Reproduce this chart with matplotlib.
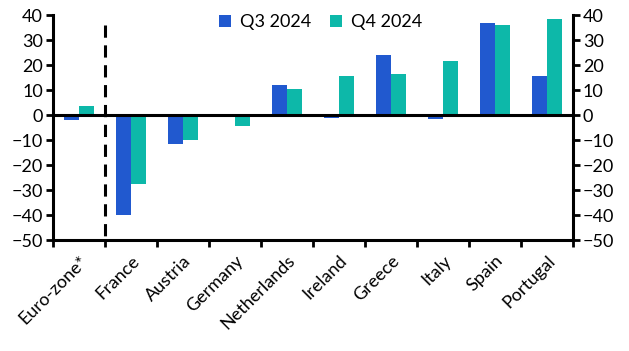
import matplotlib
matplotlib.use("Agg")
import matplotlib.pyplot as plt
import numpy as np

plt.rcParams['font.family'] = ['Lato', 'DejaVu Sans']

countries = ["Euro-zone*", "France", "Austria", "Germany", "Netherlands",
             "Ireland", "Greece", "Italy", "Spain", "Portugal"]
q3_2024 = [-2, -40, -11.5, 0, 12, -1, 24, -1.5, 37, 15.5]
q4_2024 = [3.5, -27.5, -10, -4.5, 10.5, 15.5, 16.5, 21.5, 36, 38.5]

blue = "#2159CF"
teal = "#0DB8A9"

fig = plt.figure(figsize=(6.29, 3.51), dpi=100)
ax = fig.add_axes([0.084, 0.316, 0.827, 0.641])

x = np.arange(len(countries))
w = 0.29
ax.bar(x - w/2, q3_2024, w, color=blue, label="Q3 2024")
ax.bar(x + w/2, q4_2024, w, color=teal, label="Q4 2024")

ax.axhline(0, color="black", lw=2.2, zorder=3)
ax.plot([0.5, 0.5], [36, -49], color="black", lw=2.2, ls=(0, (4, 2.5)), zorder=3)

ax.set_xlim(-0.5, len(countries) - 0.5)
ax.set_ylim(-50, 40)
ax.set_yticks(range(-50, 41, 10))
ax.set_xticks(np.arange(-0.5, len(countries), 1.0))
ax.set_xticklabels([])
ax.set_xticks(x, minor=True)
ax.set_xticklabels(countries, minor=True, rotation=45, ha="right",
                   rotation_mode="anchor", fontsize=13)
ax.tick_params(axis="x", which="minor", length=0, pad=9)
ax.tick_params(axis="x", which="major", length=5, width=2, direction="out")
ax.tick_params(axis="y", length=5, width=2, direction="out", labelsize=13,
               left=True, right=True, labelleft=True, labelright=True, pad=2)

for s in ["left", "right", "bottom"]:
    ax.spines[s].set_linewidth(2.2)
ax.spines["top"].set_visible(False)

ax.legend(loc="upper center", bbox_to_anchor=(0.515, 1.075), ncol=2, frameon=False,
          fontsize=13, handlelength=0.7, handleheight=0.7, handletextpad=0.5,
          columnspacing=1.0)

fig.savefig("out.png", dpi=100)
